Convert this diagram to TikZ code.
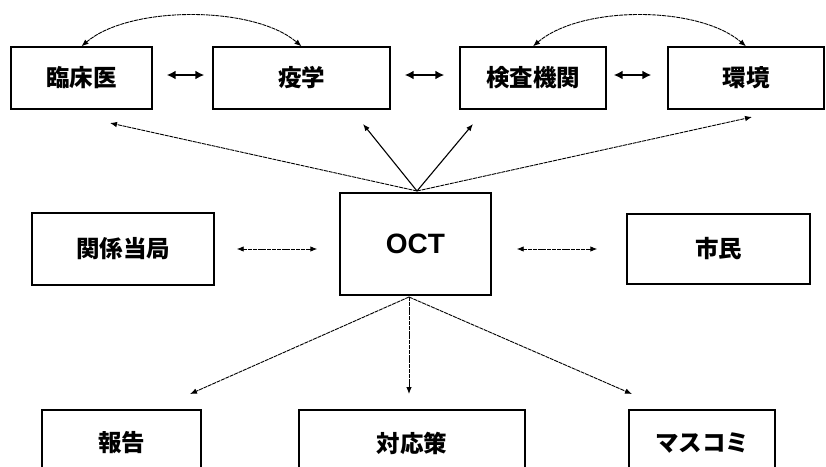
\documentclass[tikz,border=0pt]{standalone}
\usepackage{fontspec}
\newfontfamily\jp{Noto Sans CJK JP}
\setmainfont{Liberation Sans}
\usetikzlibrary{arrows.meta}
\begin{document}
\begin{tikzpicture}[x=1pt,y=-1pt,
  box/.style={draw=black,line width=1.4pt,rectangle,inner sep=0pt,fill=white,font=\jp\bfseries\fontsize{23.5}{26}\selectfont},
  thickarrow/.style={line width=2.6pt,{Latex[length=9pt,width=9pt]}-{Latex[length=9pt,width=9pt]}},
  thinline/.style={draw=black,line width=0.9pt,dash pattern=on 4pt off 0.8pt},
  solidthin/.style={draw=black,line width=1.1pt},
  tip/.style={-{Latex[length=7pt,width=5.5pt]}},
  tips/.style={{Latex[length=7pt,width=5.5pt]}-{Latex[length=7pt,width=5.5pt]}}]
\useasboundingbox (0,0) rectangle (826,466);
\clip (0,0) rectangle (826,466);
% top row
\node[box,minimum width=141pt,minimum height=62pt] (lin) at (81.5,78) {臨床医};
\node[box,minimum width=177pt,minimum height=62pt] (eki) at (301.5,78) {疫学};
\node[box,minimum width=146pt,minimum height=62pt] (ken) at (533,78) {検査機関};
\node[box,minimum width=156pt,minimum height=62pt] (kan) at (746,78) {環境};
% middle row
\node[box,minimum width=182pt,minimum height=72pt] (rel) at (123,249) {関係当局};
\node[box,minimum width=151pt,minimum height=102pt,font=\bfseries\fontsize{28}{30}\selectfont] (oct) at (415.5,244) {OCT};
\node[box,minimum width=183pt,minimum height=70pt] (shi) at (718.5,249) {市民};
% bottom row
\node[box,minimum width=159pt,minimum height=66pt] (hou) at (121.5,443) {報告};
\node[box,minimum width=226pt,minimum height=66pt] (tai) at (412,443) {対応策};
\node[box,minimum width=146pt,minimum height=66pt] (mas) at (702,443) {マスコミ};
% curved arrows
\draw[thinline,tips] (lin.north) .. controls +(48,-41) and +(-48,-41) .. (eki.north);
\draw[thinline,tips] (ken.north) .. controls +(48,-41) and +(-48,-41) .. (kan.north);
% thick double arrows
\draw[thickarrow] ([xshift=14pt,yshift=3pt]lin.east) -- ([xshift=-8pt,yshift=3pt]eki.west);
\draw[thickarrow] ([xshift=14pt,yshift=3pt]eki.east) -- ([xshift=-15pt,yshift=3pt]ken.west);
\draw[thickarrow] ([xshift=7pt,yshift=3pt]ken.east) -- ([xshift=-16pt,yshift=3pt]kan.west);
% top diagonals
\coordinate (top) at (417,191);
\coordinate (t1) at (110,123);
\coordinate (t2) at (363,124);
\coordinate (t3) at (473,124);
\coordinate (t4) at (752,117);
\draw[thinline,tip] (top) -- (t1);
\draw[solidthin,tip] (top) -- (t2);
\draw[solidthin,tip] (top) -- (t3);
\draw[thinline,tip] (top) -- (t4);
% side arrows
\draw[thinline,tips] ([xshift=22pt]rel.east) -- ([xshift=-22pt]oct.west |- rel.east);
\draw[thinline,tips] ([xshift=25pt]oct.east |- shi.west) -- ([xshift=-29pt]shi.west);
% bottom arrows
\coordinate (bot) at (409,297);
\coordinate (b1) at (190,394);
\coordinate (b2) at (409,394);
\coordinate (b3) at (632,394);
\draw[thinline,tip] (bot) -- (b1);
\draw[thinline,tip] (bot) -- (b2);
\draw[thinline,tip] (bot) -- (b3);
\end{tikzpicture}
\end{document}
